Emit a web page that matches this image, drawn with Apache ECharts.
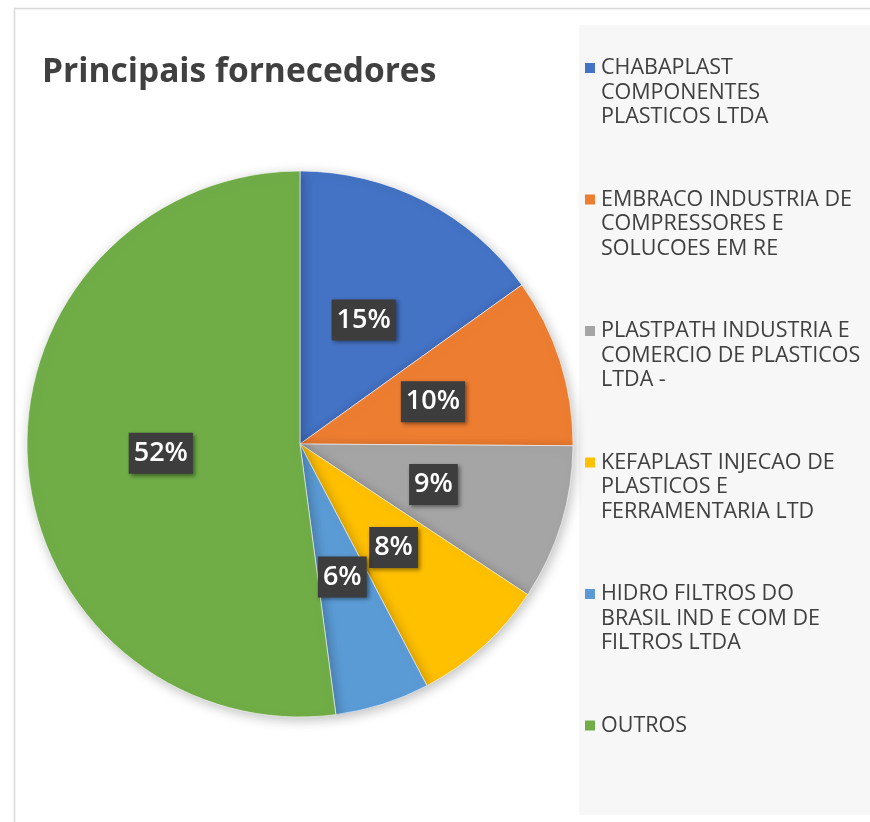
<!DOCTYPE html>
<html>
<head>
<meta charset="utf-8">
<title>Principais fornecedores</title>
<script src="https://cdn.jsdelivr.net/npm/echarts@6/dist/echarts.min.js"></script>
<style>
  html, body { margin: 0; padding: 0; background: #ffffff; }
  #chart { width: 870px; height: 822px; }
</style>
</head>
<body>
<div id="chart"></div>
<script>
// fornecedores e participação (%)
const suppliers = [
  'CHABAPLAST\nCOMPONENTES\nPLASTICOS LTDA',
  'EMBRACO INDUSTRIA DE\nCOMPRESSORES E\nSOLUCOES EM RE',
  'PLASTPATH INDUSTRIA E\nCOMERCIO DE PLASTICOS\nLTDA -',
  'KEFAPLAST INJECAO DE\nPLASTICOS E\nFERRAMENTARIA LTD',
  'HIDRO FILTROS DO\nBRASIL IND E COM DE\nFILTROS LTDA',
  'OUTROS'
];
const shares = [15.1, 10.0, 9.2, 8.0, 5.6, 52.1];
const sliceColors = ['#4472C4', '#ED7D31', '#A5A5A5', '#FFC000', '#5B9BD5', '#70AD47'];

const TEXT_COLOR = '#404040';
const FONT = '"Open Sans", sans-serif';

const chart = echarts.init(document.getElementById('chart'), null, { renderer: 'canvas' });

// legenda: quadrado alinhado com a primeira linha do texto
const legendRich = {
  t: { fontSize: 21.5, fontFamily: FONT, color: TEXT_COLOR, lineHeight: 24.5 },
  ind: { width: 16, height: 10, lineHeight: 24.5 },
  gap: { width: 6, height: 10, lineHeight: 24.5 }
};
sliceColors.forEach((c, i) => {
  legendRich['sq' + i] = { width: 10, height: 10, backgroundColor: c, lineHeight: 24.5 };
});

const legendFormatter = (name) => {
  const idx = suppliers.indexOf(name);
  return name.split('\n').map((line, i) =>
    i === 0 ? `{sq${idx}|}{gap|}{t|${line}}` : `{ind|}{t|${line}}`
  ).join('\n');
};

const option = {
  backgroundColor: '#ffffff',
  animation: false,
  graphic: [
    { type: 'rect', shape: { x: 579, y: 25, width: 291, height: 790 }, style: { fill: '#f7f7f7' }, z: -10 },
    { type: 'line', shape: { x1: 14, y1: 8.5, x2: 870, y2: 8.5 }, style: { stroke: '#d9d9d9', lineWidth: 1.5 } },
    { type: 'line', shape: { x1: 14.5, y1: 8, x2: 14.5, y2: 822 }, style: { stroke: '#d9d9d9', lineWidth: 1.5 } }
  ],
  title: {
    text: 'Principais fornecedores',
    left: 37,
    top: 50,
    textStyle: { fontSize: 33.5, fontWeight: 'bold', fontFamily: FONT, color: TEXT_COLOR }
  },
  legend: {
    orient: 'vertical',
    left: 579,
    top: 57,
    padding: 0,
    itemWidth: 1,
    itemHeight: 1,
    itemGap: 60.5,
    itemStyle: { color: 'transparent', borderWidth: 0 },
    selectedMode: false,
    data: suppliers,
    formatter: legendFormatter,
    textStyle: { rich: legendRich }
  },
  series: [{
    type: 'pie',
    center: [300, 444],
    radius: 273,
    startAngle: 90,
    clockwise: true,
    data: suppliers.map((name, i) => ({ name: name, value: shares[i], itemStyle: { color: sliceColors[i] } })),
    itemStyle: {
      borderColor: '#ffffff',
      borderWidth: 0.6,
      shadowBlur: 12,
      shadowColor: 'rgba(0,0,0,0.25)',
      shadowOffsetX: 2,
      shadowOffsetY: 3
    },
    label: {
      show: true,
      position: 'inside',
      formatter: (p) => Math.round(p.percent) + '%',
      fontSize: 27,
      fontWeight: 600,
      fontFamily: FONT,
      color: '#ffffff',
      backgroundColor: '#3d3d3d',
      padding: [5, 5, 4, 5],
      lineHeight: 32,
      shadowBlur: 4,
      shadowColor: 'rgba(0,0,0,0.45)',
      shadowOffsetX: 2,
      shadowOffsetY: 2
    },
    labelLine: { show: false },
    emphasis: { disabled: true }
  }]
};

chart.setOption(option);
</script>
</body>
</html>
